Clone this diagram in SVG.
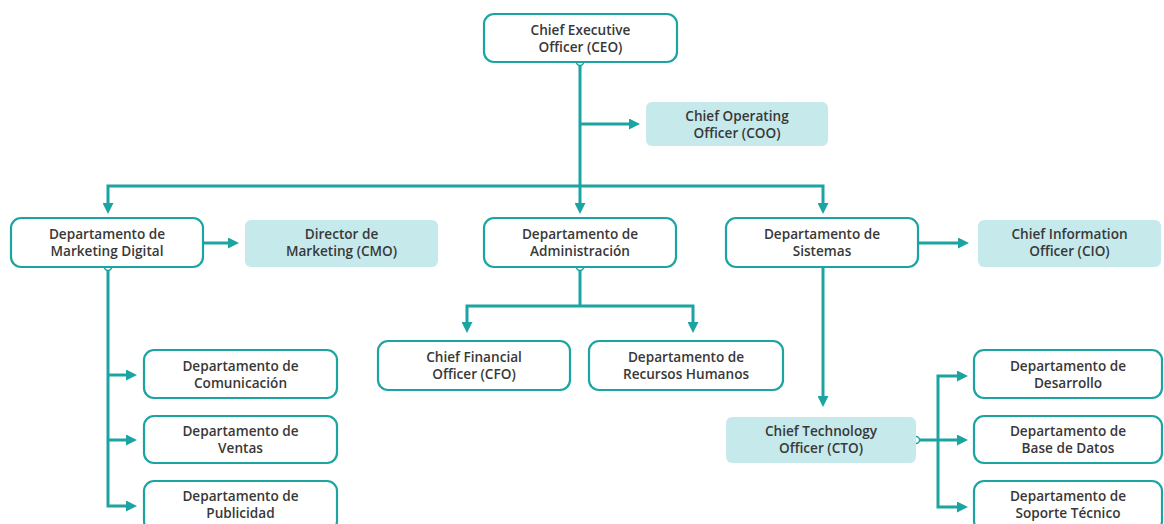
<svg xmlns="http://www.w3.org/2000/svg" width="1164" height="524" viewBox="0 0 1164 524">
<style>
.box{fill:#ffffff;stroke:#1ba4a2;stroke-width:2.2}
.fill{fill:#c6e9eb;stroke:none}
.t{font-family:"Open Sans","Liberation Sans",sans-serif;font-weight:600;font-size:13.6px;fill:#383838;text-anchor:middle}
.ln{fill:none;stroke:#1ba4a2;stroke-width:3}
.dot{fill:#ffffff;stroke:#1ba4a2;stroke-width:1.5}
</style>
<defs>
<marker id="ah" viewBox="0 0 11 11" refX="3" refY="5.5" markerWidth="11" markerHeight="11" markerUnits="userSpaceOnUse" orient="auto-start-reverse">
<path d="M0,0 L11,5.5 L0,11 z" fill="#1ba4a2"/>
</marker>
</defs>
<rect width="1164" height="524" fill="#ffffff"/>
<g id="connectors">
<path class="ln" d="M580,62 V206" marker-end="url(#ah)"/>
<path class="ln" d="M580,124 H632" marker-end="url(#ah)"/>
<path class="ln" d="M108,206 V186 H823 V206" marker-start="url(#ah)" marker-end="url(#ah)"/>
<path class="ln" d="M203,243 H231" marker-end="url(#ah)"/>
<path class="ln" d="M918,243 H961" marker-end="url(#ah)"/>
<path class="ln" d="M108,267 V506 H129" marker-end="url(#ah)"/>
<path class="ln" d="M108,375 H129" marker-end="url(#ah)"/>
<path class="ln" d="M108,440 H129" marker-end="url(#ah)"/>
<path class="ln" d="M580,267 V306"/>
<path class="ln" d="M467,325 V306 H693 V325" marker-start="url(#ah)" marker-end="url(#ah)"/>
<path class="ln" d="M823,267 V399" marker-end="url(#ah)"/>
<path class="ln" d="M960,376 H938 V507 H960" marker-start="url(#ah)" marker-end="url(#ah)"/>
<path class="ln" d="M916,440 H960" marker-end="url(#ah)"/>
<circle class="dot" cx="580" cy="62" r="3.5"/>
<circle class="dot" cx="108" cy="267" r="3.5"/>
<circle class="dot" cx="580" cy="267" r="3.5"/>
<circle class="dot" cx="916" cy="440" r="3.5"/>
</g>
<g id="ceo"><rect class="box" x="484" y="14" width="193" height="48" rx="10"/><text class="t" x="580.5" y="35">Chief Executive</text><text class="t" x="580.5" y="52">Officer (CEO)</text></g>
<g id="coo"><rect class="fill" x="646" y="102" width="182" height="44" rx="6"/><text class="t" x="737" y="121">Chief Operating</text><text class="t" x="737" y="138">Officer (COO)</text></g>
<g id="marketing"><rect class="box" x="11" y="218" width="192" height="49" rx="10"/><text class="t" x="107" y="239">Departamento de</text><text class="t" x="107" y="256">Marketing Digital</text></g>
<g id="cmo"><rect class="fill" x="245" y="220" width="193" height="47" rx="6"/><text class="t" x="341.5" y="239">Director de</text><text class="t" x="341.5" y="256">Marketing (CMO)</text></g>
<g id="admin"><rect class="box" x="484" y="218" width="192" height="49" rx="10"/><text class="t" x="580" y="239">Departamento de</text><text class="t" x="580" y="256">Administración</text></g>
<g id="sistemas"><rect class="box" x="726" y="218" width="192" height="49" rx="10"/><text class="t" x="822" y="239">Departamento de</text><text class="t" x="822" y="256">Sistemas</text></g>
<g id="cio"><rect class="fill" x="978" y="220" width="183" height="47" rx="6"/><text class="t" x="1069.5" y="239">Chief Information</text><text class="t" x="1069.5" y="256">Officer (CIO)</text></g>
<g id="comunicacion"><rect class="box" x="144" y="350" width="193" height="48" rx="10"/><text class="t" x="240.5" y="371">Departamento de</text><text class="t" x="240.5" y="388">Comunicación</text></g>
<g id="ventas"><rect class="box" x="144" y="416" width="193" height="47" rx="10"/><text class="t" x="240.5" y="436">Departamento de</text><text class="t" x="240.5" y="453">Ventas</text></g>
<g id="publicidad"><rect class="box" x="144" y="481" width="193" height="50" rx="10"/><text class="t" x="240.5" y="501">Departamento de</text><text class="t" x="240.5" y="518">Publicidad</text></g>
<g id="cfo"><rect class="box" x="378" y="341" width="192" height="49" rx="10"/><text class="t" x="474" y="362">Chief Financial</text><text class="t" x="474" y="379">Officer (CFO)</text></g>
<g id="rrhh"><rect class="box" x="589" y="341" width="194" height="49" rx="10"/><text class="t" x="686" y="362">Departamento de</text><text class="t" x="686" y="379">Recursos Humanos</text></g>
<g id="cto"><rect class="fill" x="726" y="417" width="190" height="46" rx="6"/><text class="t" x="821" y="436">Chief Technology</text><text class="t" x="821" y="453">Officer (CTO)</text></g>
<g id="desarrollo"><rect class="box" x="974" y="350" width="188" height="48" rx="10"/><text class="t" x="1068" y="371">Departamento de</text><text class="t" x="1068" y="388">Desarrollo</text></g>
<g id="basedatos"><rect class="box" x="974" y="416" width="188" height="47" rx="10"/><text class="t" x="1068" y="436">Departamento de</text><text class="t" x="1068" y="453">Base de Datos</text></g>
<g id="soporte"><rect class="box" x="974" y="481" width="188" height="50" rx="10"/><text class="t" x="1068" y="501">Departamento de</text><text class="t" x="1068" y="518">Soporte Técnico</text></g>
</svg>
